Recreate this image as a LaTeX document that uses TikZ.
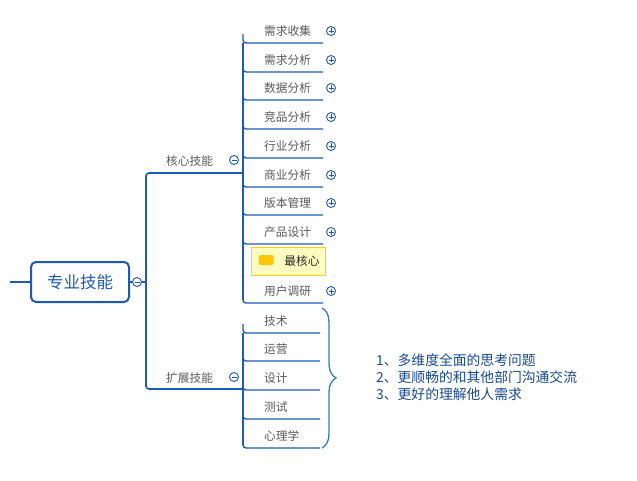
\documentclass[tikz,border=0pt]{standalone}
\usepackage{fontspec}
\setmainfont{Noto Sans CJK SC}
\usetikzlibrary{decorations.pathreplacing}
\begin{document}
\begin{tikzpicture}[x=1pt,y=-1pt,
  lbl/.style={font=\fontsize{11.7}{13}\selectfont, text=black!65, inner sep=0pt},
  pl/.style={circle, draw=bl, line width=0.9pt, minimum size=9pt, inner sep=0pt, fill=white},
]
\definecolor{bl}{RGB}{30,90,180}
\useasboundingbox (0,0) rectangle (637,481);
\node[draw=bl, line width=2pt, rounded corners=5pt, minimum width=98pt, minimum height=40pt, font=\fontsize{16.5}{18}\selectfont, text=bl] (root) at (80,282) {专业技能};
\coordinate (lft) at (10,282);
\draw[bl, line width=2pt] (lft) -- (root.west);
\draw[bl, line width=1.6pt] (root.east) -- (146,282);
\node[pl] (c0) at (137,282) {};
\draw[bl, line width=0.8pt] (c0.center) +(-2.5,0) -- +(2.5,0);
% main branches
\draw[bl, line width=1.6pt, rounded corners=3pt] (242,173) -- (146,173) -- (146,389) -- (242,389);
\node[lbl, anchor=west] (core) at (166,161) {核心技能};
\node[lbl, anchor=west] (ext) at (166,378) {扩展技能};
\node[pl] (c1) at (234,160) {};
\draw[bl, line width=0.8pt] (c1.center) +(-2.5,0) -- +(2.5,0);
\node[pl] (c2) at (234,377) {};
\draw[bl, line width=0.8pt] (c2.center) +(-2.5,0) -- +(2.5,0);
% core children
\foreach \t/\y [count=\i] in {需求收集/31,需求分析/60,数据分析/88,竞品分析/117,行业分析/146,商业分析/175,版本管理/203,产品设计/232,用户调研/291}{
  \node[lbl, anchor=west] (k\i) at (264,\y) {\t};
  \draw[bl, line width=1.4pt, rounded corners=3pt] (243,\y+3) -- (243,\y+12) -- (323,\y+12);
  \node[pl] (p\i) at (331,\y) {};
  \draw[bl, line width=0.8pt] (p\i.center) +(-2.5,0) -- +(2.5,0) (p\i.center) +(0,-2.5) -- +(0,2.5);
}
\draw[bl, line width=1.4pt] (243,43) -- (243,300);
\draw[bl, line width=1.4pt] (243,173) -- (238,173);
\node[draw=yellow!70!orange, fill=yellow!25, minimum width=74pt, minimum height=28pt, inner sep=0pt] (most) at (288,261) {};
\node[lbl, text=black!85] (mostt) at (302,261) {最核心};
\node[fill=yellow!60!orange, rounded corners=1.5pt, minimum width=15pt, minimum height=10pt, inner sep=0pt] (ico) at (266,260) {};
% ext children
\foreach \t/\y [count=\i] in {技术/321,运营/349,设计/378,测试/407,心理学/436}{
  \node[lbl, anchor=west] (e\i) at (264,\y) {\t};
  \draw[bl, line width=1.4pt, rounded corners=3pt] (243,\y+3) -- (243,\y+12) -- (320,\y+12);
}
\draw[bl, line width=1.4pt] (243,333) -- (243,445);
\draw[bl, line width=1.4pt] (243,389) -- (238,389);
% brace
\draw[blue!40!cyan!60!black!80, line width=1.3pt, decorate, decoration={brace, amplitude=14pt}] (322,308) -- (322,448);
\node[align=left, anchor=west, font=\fontsize{13.8}{15}\selectfont, text=bl!80!black, inner sep=0pt] (txt) at (376,377) {1、多维度全面的思考问题\\[2pt]2、更顺畅的和其他部门沟通交流\\[2pt]3、更好的理解他人需求};
\end{tikzpicture}
\end{document}
